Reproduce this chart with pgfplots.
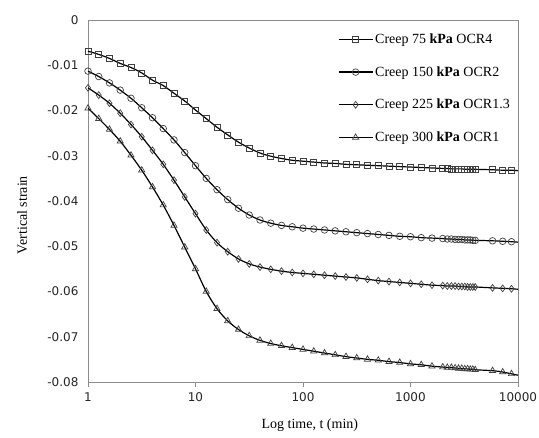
\documentclass[border=0pt]{standalone}
\usepackage{pgfplots}
\pgfplotsset{compat=1.18}
\usepackage{pgfplotstable}
\usepackage{fontspec}
\setmainfont{Liberation Serif}
\newfontfamily\tickfont{DejaVu Sans}
\definecolor{axgray}{HTML}{8C8C8C}
\definecolor{mkgray}{HTML}{404040}

\pgfplotstableread{
t a b c d
1 -0.0069 -0.0113 -0.0150 -0.0195
1.259 -0.0076 -0.0125 -0.0166 -0.0218
1.585 -0.0085 -0.0139 -0.0184 -0.0242
1.995 -0.0096 -0.0155 -0.0206 -0.0268
2.512 -0.0105 -0.0173 -0.0231 -0.0299
3.162 -0.0117 -0.0194 -0.0258 -0.0332
3.981 -0.0133 -0.0216 -0.0288 -0.0369
5.012 -0.0145 -0.0240 -0.0319 -0.0409
6.310 -0.0162 -0.0265 -0.0354 -0.0454
7.943 -0.0179 -0.0293 -0.0391 -0.0502
10 -0.0199 -0.0322 -0.0428 -0.0550
12.59 -0.0218 -0.0350 -0.0464 -0.0600
15.85 -0.0237 -0.0375 -0.0492 -0.0638
19.95 -0.0254 -0.0397 -0.0512 -0.0665
25.12 -0.0270 -0.0416 -0.0528 -0.0684
31.62 -0.0283 -0.0431 -0.0539 -0.0698
39.81 -0.0294 -0.0442 -0.0546 -0.0708
50.12 -0.0301 -0.0449 -0.0551 -0.0715
63.10 -0.0306 -0.0454 -0.0555 -0.0720
79.43 -0.0310 -0.0457 -0.0558 -0.0724
100 -0.0312 -0.0460 -0.0560 -0.0728
125.9 -0.0314 -0.0462 -0.0562 -0.0732
158.5 -0.0316 -0.0464 -0.0564 -0.0736
199.5 -0.0317 -0.0466 -0.0566 -0.0740
251.2 -0.0319 -0.0468 -0.0568 -0.0744
316.2 -0.0320 -0.0470 -0.0570 -0.0747
398.1 -0.0321 -0.0472 -0.0573 -0.0750
501.2 -0.0322 -0.0474 -0.0576 -0.0752
631.0 -0.0323 -0.0476 -0.0578 -0.0755
794.3 -0.0324 -0.0478 -0.0580 -0.0757
1000 -0.0325 -0.0479 -0.0582 -0.0760
1259 -0.0326 -0.0481 -0.0584 -0.0762
1585 -0.0327 -0.0482 -0.0586 -0.0765
1995 -0.0328 -0.0483 -0.0587 -0.0767
2200 -0.0328 -0.0484 -0.0588 -0.0768
2400 -0.0329 -0.0484 -0.0588 -0.0768
2600 -0.0329 -0.0485 -0.0588 -0.0769
2800 -0.0329 -0.0485 -0.0589 -0.0770
3000 -0.0329 -0.0485 -0.0589 -0.0770
3200 -0.0330 -0.0486 -0.0589 -0.0771
3400 -0.0330 -0.0486 -0.0590 -0.0771
3600 -0.0330 -0.0486 -0.0590 -0.0772
3800 -0.0330 -0.0487 -0.0590 -0.0772
4000 -0.0330 -0.0487 -0.0590 -0.0773
5800 -0.0331 -0.0488 -0.0592 -0.0775
7200 -0.0332 -0.0489 -0.0593 -0.0778
8700 -0.0332 -0.0490 -0.0594 -0.0782
10000 -0.0333 -0.0491 -0.0595 -0.0785
}\creep

\begin{document}
\begin{tikzpicture}
\path[use as bounding box] (-88pt,-56pt) rectangle (451pt,382pt);
\begin{axis}[
  at={(0pt,0pt)}, anchor=south west,
  scale only axis, width=430pt, height=362pt,
  xmode=log, xmin=1, xmax=10000, ymin=-0.08, ymax=0,
  scaled y ticks=false,
  xtick={1,10,100,1000,10000},
  xticklabels={1,10,100,1000,10000},
  xminorticks=false,
  ytick={0,-0.01,-0.02,-0.03,-0.04,-0.05,-0.06,-0.07,-0.08},
  yticklabels={0,-0.01,-0.02,-0.03,-0.04,-0.05,-0.06,-0.07,-0.08},
  axis line style={axgray, line width=0.6pt},
  xtick pos=bottom, xtick align=outside, major tick length=5pt,
  xtick style={axgray, line width=0.6pt},
  ytick style={draw=none},
  ticklabel style={font=\tickfont\fontsize{12}{14}\selectfont, text=black!85},
  yticklabel style={xshift=-6pt},
  xticklabel style={yshift=-2pt},
  xlabel={Log time, t (min)},
  ylabel={Vertical strain},
  every axis x label/.style={at={(axis description cs:0.516,-0.119)}, anchor=center,
    font=\fontsize{14}{16}\selectfont},
  every axis y label/.style={at={(axis description cs:-0.153,0.461)}, rotate=90, anchor=center,
    font=\fontsize{14}{16}\selectfont},
  legend style={draw=none, fill=none, inner sep=0pt, at={(0.581,0.968)}, anchor=north west,
    font=\fontsize{14}{16}\selectfont, row sep=17.5pt, cells={anchor=west}},
  legend image code/.code={
    \draw[black, line width=1.2pt] (0pt,0pt) -- (34pt,0pt);
    \draw[#1, mark repeat=1, mark phase=1] plot coordinates {(17pt,0pt)};
  },
  mkstyle/.style={only marks, mark options={draw=mkgray, line width=0.7pt, fill=none, solid},
    skip coords between index={47}{48}},
]
\addplot[black, line width=1.2pt, smooth, no marks, forget plot] table[x=t, y=a] {\creep};
\addplot[mkstyle, mark=square, mark size=3pt] table[x=t, y=a] {\creep};
\addlegendentry{Creep 75 \textbf{kPa} OCR4}
\addplot[black, line width=1.2pt, smooth, no marks, forget plot] table[x=t, y=b] {\creep};
\addplot[mkstyle, mark=o, mark size=3.3pt] table[x=t, y=b] {\creep};
\addlegendentry{Creep 150 \textbf{kPa} OCR2}
\addplot[black, line width=1.2pt, smooth, no marks, forget plot] table[x=t, y=c] {\creep};
\addplot[mkstyle, mark=diamond, mark size=3.4pt] table[x=t, y=c] {\creep};
\addlegendentry{Creep 225 \textbf{kPa} OCR1.3}
\addplot[black, line width=1.2pt, smooth, no marks, forget plot] table[x=t, y=d] {\creep};
\addplot[mkstyle, mark=triangle, mark size=3.6pt] table[x=t, y=d] {\creep};
\addlegendentry{Creep 300 \textbf{kPa} OCR1}
\end{axis}
\end{tikzpicture}
\end{document}
